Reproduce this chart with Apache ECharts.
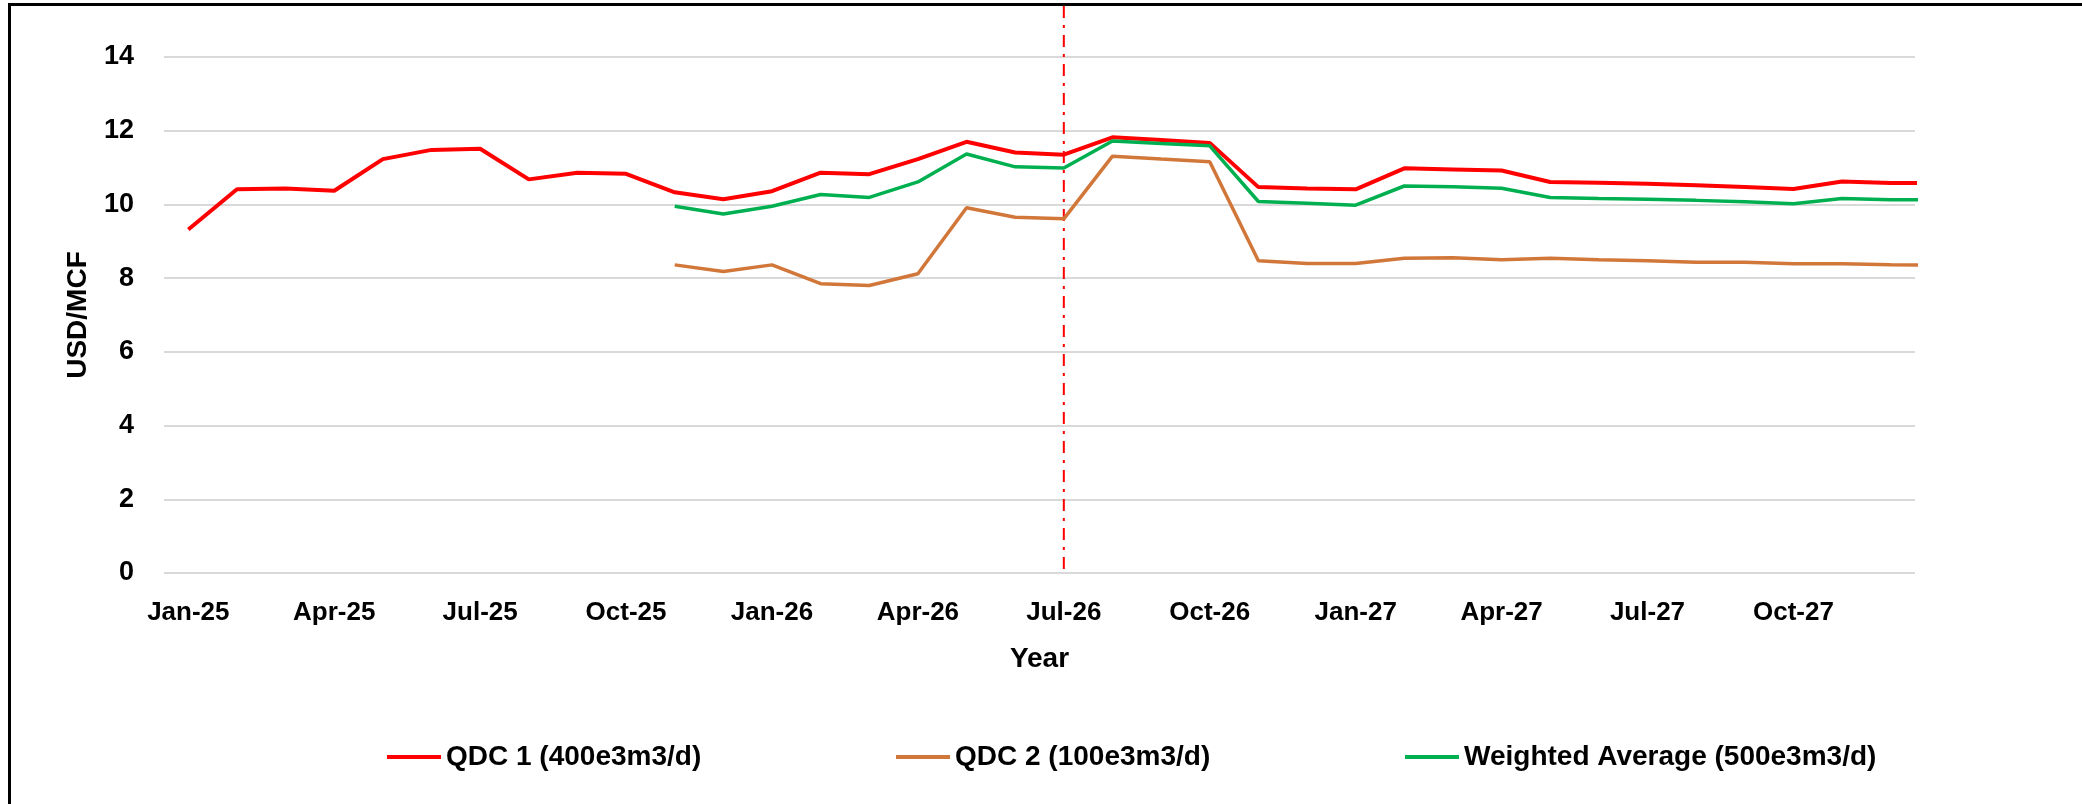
<!DOCTYPE html>
<html>
<head>
<meta charset="utf-8">
<script src="https://cdn.jsdelivr.net/npm/echarts@6/dist/echarts.min.js"></script>
<style>
    html, body {margin: 0; padding: 0; background: #fff;}
    #chart {width: 2082px; height: 804px;}
</style>
</head>
<body>
<div id="chart"></div>
<script>
// monthly points, Jan-25 .. Jan-28 (the last one runs off the right edge of the plot)
const months = [
    'Jan-25', 'Feb-25', 'Mar-25', 'Apr-25', 'May-25', 'Jun-25', 'Jul-25', 'Aug-25', 'Sep-25', 'Oct-25', 'Nov-25', 'Dec-25',
    'Jan-26', 'Feb-26', 'Mar-26', 'Apr-26', 'May-26', 'Jun-26', 'Jul-26', 'Aug-26', 'Sep-26', 'Oct-26', 'Nov-26', 'Dec-26',
    'Jan-27', 'Feb-27', 'Mar-27', 'Apr-27', 'May-27', 'Jun-27', 'Jul-27', 'Aug-27', 'Sep-27', 'Oct-27', 'Nov-27', 'Dec-27',
    'Jan-28'
]
const axisMonths = months.slice(0, 36)

const qdc1 = [
    9.32, 10.41, 10.43, 10.37, 11.23, 11.48, 11.51, 10.68, 10.86, 10.83, 10.33, 10.14,
    10.36, 10.86, 10.82, 11.23, 11.70, 11.41, 11.35, 11.82, 11.75, 11.67, 10.47, 10.43,
    10.41, 10.98, 10.95, 10.92, 10.61, 10.59, 10.56, 10.52, 10.47, 10.42, 10.62, 10.58,
    10.58
]
const qdc2 = [
    null, null, null, null, null, null, null, null, null, null, 8.36, 8.18,
    8.36, 7.85, 7.80, 8.12, 9.91, 9.65, 9.61, 11.31, 11.23, 11.16, 8.47, 8.40,
    8.40, 8.54, 8.55, 8.50, 8.54, 8.50, 8.47, 8.43, 8.43, 8.39, 8.39, 8.36,
    8.35
]
const weighted = [
    null, null, null, null, null, null, null, null, null, null, 9.95, 9.74,
    9.95, 10.27, 10.19, 10.61, 11.37, 11.02, 10.99, 11.72, 11.65, 11.59, 10.08, 10.03,
    9.98, 10.50, 10.48, 10.44, 10.19, 10.16, 10.14, 10.11, 10.07, 10.02, 10.16, 10.13,
    10.13
]
const yTicks = [0, 2, 4, 6, 8, 10, 12, 14]
const markerMonth = 'Jul-26'

const FONT = '"Liberation Sans", Arial, sans-serif'
const names = ['QDC 1 (400e3m3/d)', 'QDC 2 (100e3m3/d)', 'Weighted Average (500e3m3/d)']
const colors = ['#ff0000', '#d2773a', '#00b050']
const widths = [4, 3.5, 3.5]
const legendLeft = [382, 891, 1400]

const toPoints = arr => arr.map((v, i) => [i, v]).filter(p => p[1] != null)

const chart = echarts.init(document.getElementById('chart'))

chart.setOption({
    animation: false,
    backgroundColor: '#fff',
    textStyle: {fontFamily: FONT, color: '#000'},
    grid: {left: 164, right: 167, top: 57, bottom: 231, containLabel: false},
    legend: names.map((n, i) => ({
        data: [n],
        left: legendLeft[i],
        top: 738,
        icon: 'rect',
        itemWidth: 54,
        itemHeight: 4,
        selectedMode: false,
        textStyle: {fontFamily: FONT, fontSize: 28, fontWeight: 'bold', color: '#000'}
    })),
    xAxis: [
        {
            type: 'category',
            data: axisMonths,
            boundaryGap: true,
            name: 'Year',
            nameLocation: 'middle',
            nameGap: 72,
            nameTextStyle: {fontFamily: FONT, fontSize: 28, fontWeight: 'bold', color: '#000'},
            axisLine: {show: false},
            axisTick: {show: false},
            axisLabel: {interval: 2, margin: 27, fontFamily: FONT, fontSize: 26, fontWeight: 'bold', color: '#000'},
            splitLine: {show: false}
        },
        {
            type: 'value',
            min: -0.5,
            max: axisMonths.length - 0.5,
            show: false
        }
    ],
    yAxis: {
        type: 'value',
        min: yTicks[0],
        max: yTicks[yTicks.length - 1],
        interval: yTicks[1] - yTicks[0],
        name: 'USD/MCF',
        nameLocation: 'middle',
        nameRotate: 90,
        nameGap: 72,
        nameTextStyle: {fontFamily: FONT, fontSize: 28, fontWeight: 'bold', color: '#000'},
        axisLine: {show: false},
        axisTick: {show: false},
        axisLabel: {margin: 30, fontFamily: FONT, fontSize: 27, fontWeight: 'bold', color: '#000'},
        splitLine: {lineStyle: {color: '#d9d9d9', width: 2}}
    },
    series: [qdc1, qdc2, weighted].map((arr, i) => ({
        name: names[i],
        type: 'line',
        xAxisIndex: 1,
        data: toPoints(arr),
        color: colors[i],
        showSymbol: false,
        clip: true,
        lineStyle: {color: colors[i], width: widths[i]}
    }))
})

// dash-dot marker at Jul-26, running from the frame down to the x axis
const mx = chart.convertToPixel({xAxisIndex: 1}, months.indexOf(markerMonth))
const y0 = chart.convertToPixel({yAxisIndex: 0}, 0)

chart.setOption({
    graphic: [
        {
            type: 'rect',
            shape: {x: 9.5, y: 4.5, width: 2300, height: 1000},
            style: {fill: 'none', stroke: '#000', lineWidth: 3},
            silent: true
        },
        {
            type: 'line',
            shape: {x1: mx, y1: 6, x2: mx, y2: y0},
            style: {stroke: '#ff0000', lineWidth: 2, lineDash: [12, 7, 3, 7]},
            silent: true
        }
    ]
})
</script>
</body>
</html>
